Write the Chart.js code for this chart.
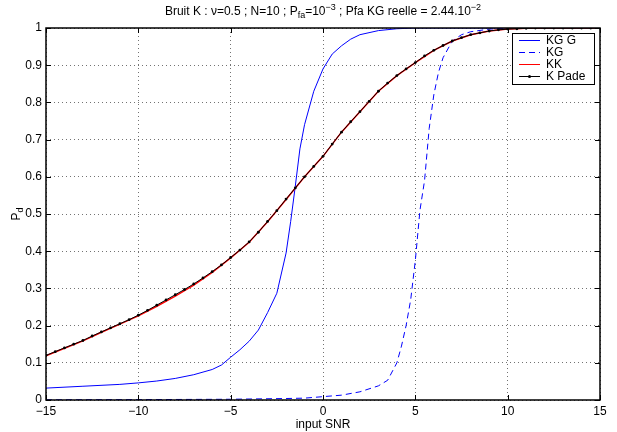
<!DOCTYPE html>
<html>
<head>
<meta charset="utf-8">
<script src="https://cdn.jsdelivr.net/npm/chart.js@4.4.1/dist/chart.umd.min.js"></script>
<style>
  html, body { margin: 0; padding: 0; background: #fff; }
  canvas { display: block; }
</style>
</head>
<body>
<canvas id="graphe" width="617" height="432"></canvas>
<script>
// ===== Données =====
// K Pade (noir, points tous les 0.5 dB)
const snrPade = [-15, -14.5, -14, -13.5, -13, -12.5, -12, -11.5, -11, -10.5,
  -10, -9.5, -9, -8.5, -8, -7.5, -7, -6.5, -6, -5.5,
  -5, -4.5, -4, -3.5, -3, -2.5, -2, -1.5, -1, -0.5,
  0, 0.5, 1, 1.5, 2, 2.5, 3, 3.5, 4, 4.5,
  5, 5.5, 6, 6.5, 7, 7.5, 8, 8.5, 9, 9.5,
  10, 10.5, 11, 11.5, 12, 12.5, 13, 13.5, 14, 14.5, 15];
const pdPade = [0.120, 0.130, 0.140, 0.150, 0.160, 0.172, 0.183, 0.194, 0.205, 0.216,
  0.228, 0.241, 0.255, 0.269, 0.283, 0.297, 0.312, 0.328, 0.345, 0.363,
  0.383, 0.403, 0.425, 0.451, 0.480, 0.509, 0.540, 0.570, 0.600, 0.628,
  0.655, 0.688, 0.720, 0.748, 0.775, 0.803, 0.830, 0.852, 0.872, 0.890,
  0.907, 0.925, 0.940, 0.953, 0.965, 0.974, 0.982, 0.987, 0.992, 0.995,
  0.997, 0.998, 0.999, 1.0, 1.0, 1.0, 1.0, 1.0, 1.0, 1.0, 1.0];

// KK (rouge)
const snrKK = [-15, -14, -13, -12, -11, -10, -9, -8, -7, -6, -5, -4, -3, -2, -1,
  0, 1, 2, 3, 4, 5, 6, 7, 8, 9, 10, 11, 12, 13, 14, 15];
const pdKK = [0.119, 0.139, 0.159, 0.182, 0.204, 0.226, 0.252, 0.279, 0.309, 0.343, 0.382, 0.424, 0.479, 0.539, 0.600,
  0.655, 0.720, 0.775, 0.830, 0.872, 0.907, 0.940, 0.965, 0.982, 0.992, 0.997, 0.999, 1.0, 1.0, 1.0, 1.0];

// KG G (bleu plein)
const snrKGG = [-15, -13, -11, -10, -9, -8, -7, -6, -5.5, -5, -4.5, -4, -3.5, -3, -2.5,
  -2, -1.75, -1.5, -1.25, -1, -0.5, 0, 0.5, 1, 1.5, 2, 3, 4, 5, 15];
const pdKGG = [0.032, 0.037, 0.042, 0.046, 0.051, 0.058, 0.068, 0.082, 0.094, 0.115, 0.135, 0.158, 0.188, 0.235, 0.287,
  0.395, 0.480, 0.575, 0.675, 0.740, 0.830, 0.890, 0.930, 0.952, 0.970, 0.982, 0.993, 0.998, 1.0, 1.0];

// KG (bleu pointillé)
const snrKG = [-15, -10, -5, -2, -1, 0, 1, 2, 3, 3.5, 4, 4.25, 4.5, 4.75, 5,
  5.25, 5.5, 5.75, 6, 6.25, 6.5, 7, 7.5, 8, 9, 10, 15];
const pdKG = [0.0005, 0.001, 0.002, 0.004, 0.005, 0.009, 0.013, 0.022, 0.038, 0.053, 0.100, 0.145, 0.200, 0.270, 0.375,
  0.510, 0.590, 0.730, 0.820, 0.880, 0.920, 0.965, 0.982, 0.990, 0.997, 1.0, 1.0];

const xTicks = [-15, -10, -5, 0, 5, 10, 15];
const yTicks = [0, 0.1, 0.2, 0.3, 0.4, 0.5, 0.6, 0.7, 0.8, 0.9, 1];

const POLICE = '"Liberation Sans", Arial, Helvetica, sans-serif';
Chart.defaults.font.family = POLICE;
Chart.defaults.font.size = 12;
Chart.defaults.color = '#000';

const points = (xs, ys) => xs.map((x, i) => ({ x: x, y: ys[i] }));
const moins = v => String(v).replace('-', '\u2212');

// texte avec indices / exposants
function texteRiche(ctx, morceaux, x, y, centre) {
    const norm = '12px ' + POLICE, petit = '9px ' + POLICE;
    let total = 0;
    morceaux.forEach(m => { ctx.font = m.s ? petit : norm; total += ctx.measureText(m.t).width; });
    let cx = centre ? x - total / 2 : x;
    ctx.textAlign = 'left';
    ctx.textBaseline = 'alphabetic';
    morceaux.forEach(m => {
        ctx.font = m.s ? petit : norm;
        const dy = m.s === 'sub' ? 3 : (m.s === 'sup' ? -5 : 0);
        ctx.fillText(m.t, cx, y + dy);
        cx += ctx.measureText(m.t).width;
    });
}

const decor = {
    id: 'decor',
    beforeDatasetsDraw(chart) {
        const { ctx, chartArea: a } = chart;
        ctx.save();
        ctx.fillStyle = '#000';
        // titre
        texteRiche(ctx, [
            { t: 'Bruit K : \u03bd=0.5 ; N=10 ; P' }, { t: 'fa', s: 'sub' }, { t: '=10' }, { t: '\u22123', s: 'sup' },
            { t: ' ; Pfa KG reelle = 2.44.10' }, { t: '\u22122', s: 'sup' }
        ], (a.left + a.right) / 2, 15, true);
        // xlabel
        ctx.font = '12px ' + POLICE;
        ctx.textAlign = 'center';
        ctx.textBaseline = 'alphabetic';
        ctx.fillText('input SNR', (a.left + a.right) / 2, 428);
        // ylabel
        ctx.translate(20, (a.top + a.bottom) / 2);
        ctx.rotate(-Math.PI / 2);
        texteRiche(ctx, [{ t: 'P' }, { t: 'd', s: 'sub' }], 0, 0, true);
        ctx.restore();
    },
    afterDraw(chart) {
        const { ctx, chartArea: a, scales } = chart;
        ctx.save();
        // cadre + graduations internes
        ctx.strokeStyle = '#000';
        ctx.lineWidth = 1;
        ctx.beginPath();
        xTicks.forEach(v => {
            const px = Math.round(scales.x.getPixelForValue(v)) + 0.5;
            ctx.moveTo(px, a.bottom); ctx.lineTo(px, a.bottom - 5);
            ctx.moveTo(px, a.top); ctx.lineTo(px, a.top + 5);
        });
        yTicks.forEach(v => {
            const py = Math.round(scales.y.getPixelForValue(v)) + 0.5;
            ctx.moveTo(a.left, py); ctx.lineTo(a.left + 5, py);
            ctx.moveTo(a.right, py); ctx.lineTo(a.right - 5, py);
        });
        ctx.stroke();
        ctx.lineWidth = 1.5;
        ctx.strokeRect(a.left, a.top, a.right - a.left, a.bottom - a.top);

        // légende
        const bx = 512.5, by = 33.5, bw = 82, bh = 51;
        ctx.fillStyle = '#fff';
        ctx.fillRect(bx, by, bw, bh);
        ctx.lineWidth = 1;
        ctx.strokeRect(bx, by, bw, bh);
        const entrees = [
            { nom: 'KG G', coul: '#0000ff', dash: [] },
            { nom: 'KG', coul: '#0000ff', dash: [6, 4] },
            { nom: 'KK', coul: '#ff0000', dash: [] },
            { nom: 'K Pade', coul: '#000', dash: [], point: true }
        ];
        ctx.font = '12px ' + POLICE;
        ctx.textAlign = 'left';
        ctx.textBaseline = 'middle';
        entrees.forEach((e, i) => {
            const y = by + 7 + i * 12;
            ctx.strokeStyle = e.coul;
            ctx.setLineDash(e.dash);
            ctx.beginPath();
            ctx.moveTo(519, y); ctx.lineTo(540, y);
            ctx.stroke();
            ctx.setLineDash([]);
            if (e.point) {
                ctx.fillStyle = '#000';
                ctx.beginPath(); ctx.arc(529.5, y, 1.5, 0, 2 * Math.PI); ctx.fill();
            }
            ctx.fillStyle = '#000';
            ctx.fillText(e.nom, 546, y + 0.5);
        });
        ctx.restore();
    }
};

new Chart(document.getElementById('graphe'), {
    type: 'line',
    data: {
        datasets: [
            {
                label: 'K Pade',
                data: points(snrPade, pdPade),
                borderColor: '#000',
                borderWidth: 1,
                pointRadius: 1.4,
                pointBackgroundColor: '#000',
                pointBorderWidth: 0,
                order: 0
            },
            {
                label: 'KK',
                data: points(snrKK, pdKK),
                borderColor: '#ff0000',
                borderWidth: 1.5,
                pointRadius: 0,
                order: 1
            },
            {
                label: 'KG',
                data: points(snrKG, pdKG),
                borderColor: '#0000ff',
                borderWidth: 1,
                borderDash: [6, 4],
                pointRadius: 0,
                order: 2
            },
            {
                label: 'KG G',
                data: points(snrKGG, pdKGG),
                borderColor: '#0000ff',
                borderWidth: 1,
                pointRadius: 0,
                order: 3
            }
        ]
    },
    options: {
        responsive: false,
        animation: false,
        devicePixelRatio: 1,
        layout: { padding: { top: 28, right: 17, left: 0, bottom: 0 } },
        elements: { line: { tension: 0, fill: false } },
        plugins: {
            legend: { display: false },
            tooltip: { enabled: false }
        },
        scales: {
            x: {
                type: 'linear',
                min: -15,
                max: 15,
                afterFit: s => { s.height = 32; },
                afterBuildTicks: s => { s.ticks = xTicks.map(v => ({ value: v })); },
                ticks: { padding: 4, callback: v => moins(v), maxRotation: 0 },
                grid: { color: 'rgba(0,0,0,0.55)', lineWidth: 1, drawTicks: false },
                border: { display: false, dash: [1, 3] }
            },
            y: {
                type: 'linear',
                min: 0,
                max: 1,
                afterFit: s => { s.width = 46; },
                afterBuildTicks: s => { s.ticks = yTicks.map(v => ({ value: v })); },
                ticks: { padding: 4, callback: v => String(v) },
                grid: { color: 'rgba(0,0,0,0.55)', lineWidth: 1, drawTicks: false },
                border: { display: false, dash: [1, 3] }
            }
        }
    },
    plugins: [decor]
});
</script>
</body>
</html>
